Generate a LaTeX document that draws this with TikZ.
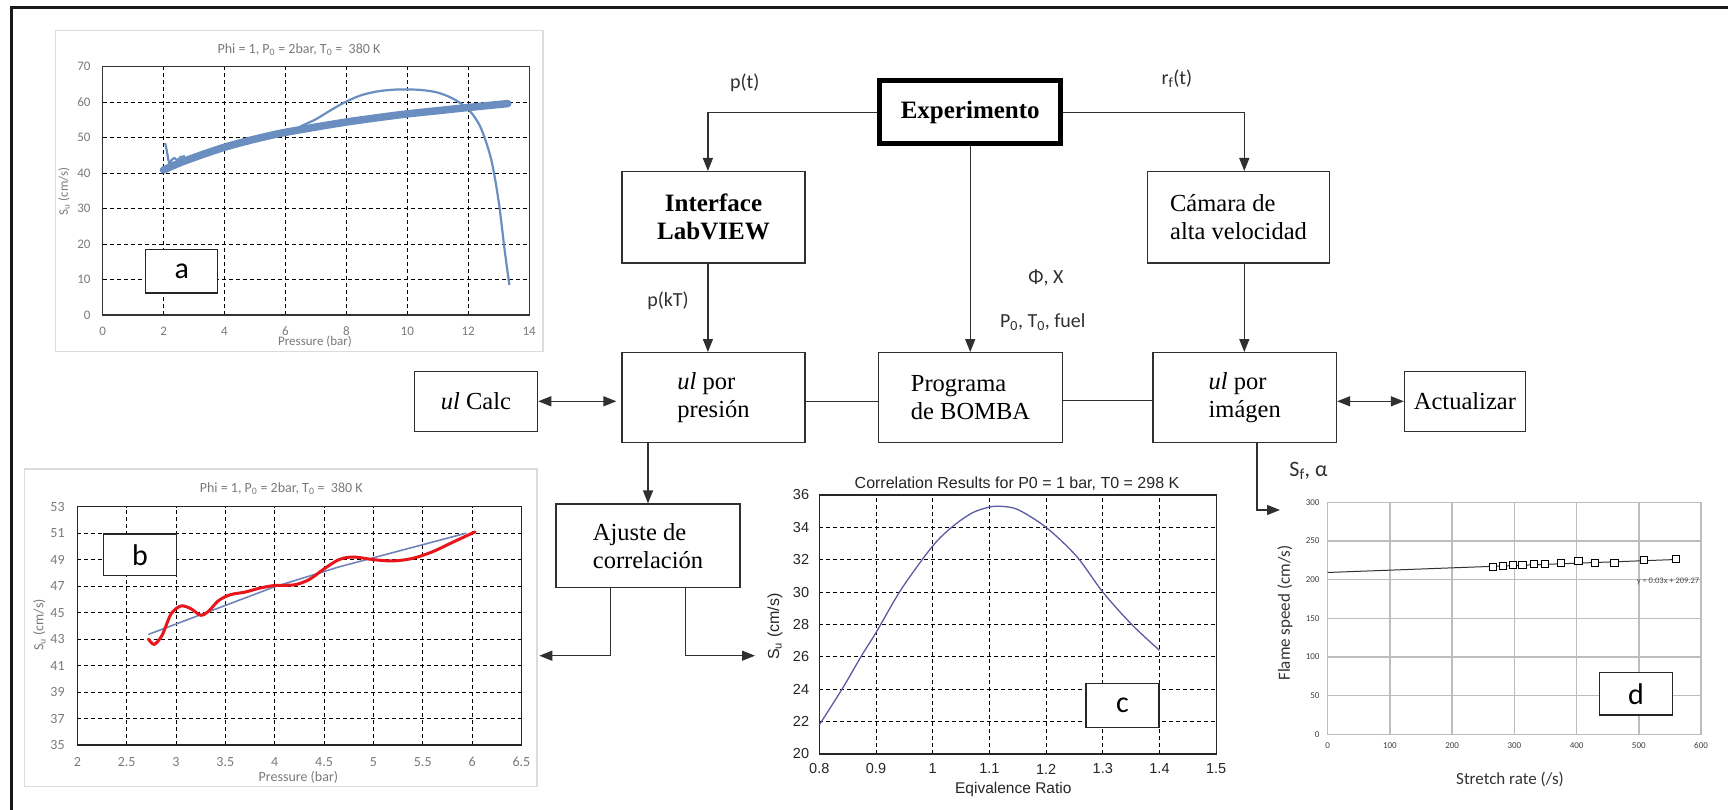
\documentclass[tikz,border=0pt]{standalone}
\usepackage{fontspec}
\setmainfont{Liberation Serif}
\newfontfamily\calfont{Carlito}
\newfontfamily\arifont{Liberation Sans}
\usetikzlibrary{arrows.meta,calc}
\definecolor{ln}{HTML}{303030}
\definecolor{gtxt}{HTML}{7A7A7A}
\definecolor{pbord}{HTML}{DCDCDC}
\definecolor{ablue}{HTML}{6A8EC0}
\definecolor{bblue}{HTML}{7283BA}
\definecolor{bred}{HTML}{E8161C}
\definecolor{cblue}{HTML}{5B5BA3}
\definecolor{dgrid}{HTML}{BDBDBD}
\tikzset{
 flowbox/.style={draw=ln, line width=1.3pt, inner sep=0pt, fill=white, font=\fontsize{24.5}{28}\selectfont, align=left},
 con/.style={draw=ln, line width=1.3pt},
 arr/.style={con, -{Triangle[length=13pt,width=10pt]}},
 darr/.style={con, {Triangle[length=13pt,width=10pt]}-{Triangle[length=13pt,width=10pt]}},
 flab/.style={font=\calfont\fontsize{20}{24}\selectfont, text=ln, inner sep=0pt},
 dgridline/.style={dash pattern=on 4pt off 3pt, line width=0.9pt, black},
 ticka/.style={font=\calfont\fontsize{13}{13}\selectfont, text=gtxt, inner sep=0pt},
 tickc/.style={font=\arifont\fontsize{14.5}{15}\selectfont, text=black!85, inner sep=0pt},
 tickd/.style={font=\calfont\fontsize{9}{9}\selectfont, text=black!75, inner sep=0pt},
 lbox/.style={draw=black!85, fill=white, line width=1.2pt, inner sep=0pt, font=\calfont\fontsize{30}{30}\selectfont},
 panel/.style={draw=pbord, line width=1.5pt},
}
\begin{document}
\begin{tikzpicture}[x=1pt,y=-1pt]
\useasboundingbox (0,0) rectangle (1728,810);
\fill[white] (0,0) rectangle (1728,810);
% outer frame
\draw[line width=2.6pt, black!90] (11.7,815) -- (11.7,7.3) -- (1735,7.3);

% ================= plot a =================
\draw[panel] (55.5,30.5) rectangle (543,351.7);
\begin{scope}[shift={(102.7,315)}, x=30.46pt, y=3.547pt]
 \foreach \xx in {2,4,...,12} \draw[dgridline] (\xx,0) -- (\xx,70);
 \foreach \yy in {10,20,...,60} \draw[dgridline] (0,\yy) -- (14,\yy);
 \draw[line width=1.2pt, black!80] (0,0) rectangle (14,70);
 \foreach \xx [count=\i] in {0,2,...,14} \node[ticka, yshift=-16pt] (ax\i) at (\xx,0) {\xx};
 \foreach \yy [count=\i] in {0,10,...,70} \node[ticka, anchor=east, xshift=-12pt] (ay\i) at (0,\yy) {\yy};
 \draw[ablue, line width=7.5pt, line cap=round, line join=round] plot[smooth] coordinates {(2.0,40.9) (2.5,42.8) (3,44.4) (3.5,45.9) (4,47.3) (4.5,48.5) (5,49.6) (5.5,50.6) (6,51.5) (7,53.0) (8,54.4) (9,55.6) (10,56.7) (11,57.6) (12,58.5) (13.3,59.6)};
 \draw[ablue, line width=2.2pt, line join=round] (2.05,48.5) -- (2.1,46.5) -- (2.15,44) -- (2.2,42) -- (2.25,43.6) -- (2.35,44.3) -- (2.45,43.6) -- (2.55,44.5) -- (2.7,44.8);
 \draw[ablue, line width=2.2pt] plot[smooth] coordinates {(6.5,53.2) (7,55.2) (7.5,57.8) (8,60.2) (8.5,62) (9,63) (9.5,63.5) (10,63.6) (10.5,63.4) (11,62.7) (11.5,61) (12,58) (12.4,53) (12.75,44) (13.0,32) (13.2,18) (13.35,8.5)};
\end{scope}
\node[ticka, font=\calfont\fontsize{14}{14}\selectfont] (ta) at (299,50) {Phi = 1, P\textsubscript{0} = 2bar, T\textsubscript{0} =~ 380 K};
\node[ticka] (xa) at (315,342) {Pressure (bar)};
\node[ticka, rotate=90] (ya) at (64,191.7) {S\textsubscript{u} (cm/s)};
\node[lbox, minimum width=72pt, minimum height=43.7pt] (la) at (181.7,271.2) {a};

% ================= plot b =================
\draw[panel] (24.5,469) rectangle (537,786.5);
\begin{scope}[shift={(-120.1,1208.4)}, x=98.7pt, y=13.24pt]
 \foreach \xx in {2.5,3,3.5,4,4.5,5,5.5,6} \draw[dgridline] (\xx,35) -- (\xx,53);
 \foreach \yy in {37,39,...,51} \draw[dgridline] (2,\yy) -- (6.5,\yy);
 \draw[line width=1.2pt, black!85] (2,35) rectangle (6.5,53);
 \foreach \xx [count=\i] in {2,2.5,3,3.5,4,4.5,5,5.5,6,6.5} \node[ticka, font=\calfont\fontsize{14}{14}\selectfont, yshift=-16.7pt] (bx\i) at (\xx,35) {\xx};
 \foreach \yy [count=\i] in {35,37,...,53} \node[ticka, font=\calfont\fontsize{14}{14}\selectfont, anchor=east, xshift=-12.5pt] (by\i) at (2,\yy) {\yy};
 \draw[bblue, line width=1.6pt] (2.72,43.35) -- (4.0,46.95) -- (4.65,48.45) -- (5.94,51.0);
 \draw[bred, line width=3pt, line cap=round] plot[smooth] coordinates {(2.72,43.0) (2.78,42.6) (2.86,43.3) (2.95,44.9) (3.05,45.5) (3.15,45.3) (3.25,44.8) (3.33,45.1) (3.43,45.9) (3.55,46.35) (3.7,46.55) (3.85,46.85) (4.0,47.05) (4.2,47.1) (4.35,47.5) (4.5,48.3) (4.65,49.0) (4.8,49.2) (5.0,49.0) (5.2,48.9) (5.4,49.1) (5.6,49.6) (5.8,50.3) (6.03,51.1)};
\end{scope}
\node[ticka, font=\calfont\fontsize{14}{14}\selectfont] (tb) at (281.3,488.3) {Phi = 1, P\textsubscript{0} = 2bar, T\textsubscript{0} =~ 380 K};
\node[ticka, font=\calfont\fontsize{14}{14}\selectfont] (xb) at (298.4,777.3) {Pressure (bar)};
\node[ticka, font=\calfont\fontsize{14}{14}\selectfont, rotate=90] (yb) at (39.4,625) {S\textsubscript{u} (cm/s)};
\node[lbox, minimum width=72.3pt, minimum height=41.3pt] (lb) at (140,554.7) {b};

% ================= plot c =================
\begin{scope}[shift={(365.7,1077.8)}, x=567pt, y=16.19pt]
 \foreach \xx in {0.9,1.0,1.1,1.2,1.3,1.4} \draw[dgridline] (\xx,20) -- (\xx,36);
 \foreach \yy in {22,24,...,34} \draw[dgridline] (0.8,\yy) -- (1.5,\yy);
 \draw[line width=1.2pt, black!85] (0.8,20) rectangle (1.5,36);
 \foreach \xx/\tl [count=\i] in {0.8/0.8,0.9/0.9,1.0/1,1.1/1.1,1.2/1.2,1.3/1.3,1.4/1.4,1.5/1.5} \node[tickc, yshift=-15pt] (cx\i) at (\xx,20) {\tl};
 \foreach \yy [count=\i] in {20,22,...,36} \node[tickc, anchor=east, xshift=-10pt] (cy\i) at (0.8,\yy) {\yy};
 \draw[cblue, line width=1.3pt] plot[smooth] coordinates {(0.8,21.8) (0.84,24.0) (0.875,26.1) (0.9,27.5) (0.945,30.2) (1.0,32.85) (1.035,34.05) (1.07,34.9) (1.1,35.25) (1.12,35.3) (1.15,35.1) (1.2,34.0) (1.254,32.2) (1.3,30.0) (1.351,28.0) (1.4,26.4)};
\end{scope}
\node[font=\arifont\fontsize{16}{16}\selectfont, text=black!85, inner sep=0pt] (tc) at (1017,484) {Correlation Results for P0 = 1 bar, T0 = 298 K};
\node[font=\arifont\fontsize{15.5}{16}\selectfont, text=black!85, inner sep=0pt] (xc) at (1013.3,789) {Eqivalence Ratio};
\node[font=\arifont\fontsize{16}{16}\selectfont, text=black!85, inner sep=0pt, rotate=90] (yc) at (775,626.7) {S\textsubscript{u} (cm/s)};
\node[lbox, minimum width=73pt, minimum height=43.6pt] (lc) at (1122.5,705.5) {c};

% ================= plot d =================
\begin{scope}[shift={(1327.7,734.3)}, x=0.6222pt, y=0.7733pt]
 \foreach \xx in {100,200,...,500} \draw[dgrid, line width=1.5pt] (\xx,0) -- (\xx,300);
 \foreach \yy in {50,100,...,250} \draw[dgrid, line width=1.5pt] (0,\yy) -- (600,\yy);
 \draw[dgrid, line width=1.5pt] (0,0) rectangle (600,300);
 \foreach \xx [count=\i] in {0,100,...,600} \node[tickd, yshift=-11.5pt] (dx\i) at (\xx,0) {\xx};
 \foreach \yy [count=\i] in {0,50,...,300} \node[tickd, anchor=east, xshift=-8pt] (dy\i) at (0,\yy) {\yy};
 \draw[black!80, line width=1pt] (0,209.27) -- (565,226.2);
 \foreach \px/\py in {266/216,282/218,298/219,313/219,331/220.4,349/220.4,375/222,403/224,430/222,461/222,508/225,560/227}
   \draw[black, line width=1pt, fill=white] (\px,\py) ++(-3.6pt,-3.6pt) rectangle ++(7.2pt,7.2pt);
\end{scope}
\node[font=\calfont\fontsize{17}{17}\selectfont, text=black!80, inner sep=0pt, rotate=90] (yd) at (1285,613.3) {Flame speed (cm/s)};
\node[font=\calfont\fontsize{17}{17}\selectfont, text=black!80, inner sep=0pt] (xd) at (1510,779) {Stretch rate (/s)};
\node[font=\calfont\fontsize{8.5}{9}\selectfont, text=black!70, inner sep=0pt] (ed) at (1668,581) {y = 0.03x + 209.27};
\node[lbox, minimum width=73.4pt, minimum height=42.3pt] (ld) at (1636,693.9) {d};

% ================= flowchart =================
\node[flowbox, draw=black, line width=5pt, minimum width=181.5pt, minimum height=62.7pt, font=\bfseries\fontsize{25}{28}\selectfont] (exp) at (970.2,112.2) {Experimento};
\node[flowbox, font=\bfseries\fontsize{25}{28}\selectfont, align=center, minimum width=183pt, minimum height=91.3pt] (labview) at (713.5,217.3) {Interface\\LabVIEW};
\node[flowbox, minimum width=183pt, minimum height=90pt] (porpresion) at (713.5,397.7) {\textit{ul} por\\presión};
\node[flowbox, minimum width=123.2pt, minimum height=60pt] (calc) at (476,401.3) {\textit{ul} Calc};
\node[flowbox, minimum width=183.5pt, minimum height=90pt] (programa) at (970.5,397.7) {Programa\\de BOMBA};
\node[flowbox, minimum width=182.3pt, minimum height=91.3pt] (camara) at (1238.5,217.3) {Cámara de\\alta velocidad};
\node[flowbox, minimum width=183.6pt, minimum height=90pt] (porimagen) at (1244.7,397.7) {\textit{ul} por\\imágen};
\node[flowbox, minimum width=120.7pt, minimum height=60pt] (actualizar) at (1464.9,401.3) {Actualizar};
\node[flowbox, minimum width=184pt, minimum height=83.3pt] (ajuste) at (648,545.7) {Ajuste de\\correlación};

\coordinate (lvn) at ([xshift=-5.6pt]labview.north);
\coordinate (lvs) at ([xshift=-5.6pt]labview.south);
\coordinate (cmn) at ([xshift=5.8pt]camara.north);
\coordinate (cms) at ([xshift=5.8pt]camara.south);
\coordinate (bout) at (539.3,655.7);
\coordinate (cout) at (755,655.7);
\coordinate (dout) at (1280,510);

\draw[arr] (exp.west) -| (lvn);
\draw[arr] (lvs) -- (lvs |- porpresion.north);
\draw[arr] (exp.east) -| (cmn);
\draw[arr] (cms) -- (cms |- porimagen.north);
\draw[arr] (exp.south) -- (exp.south |- programa.north);
\draw[darr, shorten >=5pt] (calc.east) -- (calc.east -| porpresion.west);
\draw[con] ([yshift=-3.6pt]porpresion.east) -- ([yshift=-3.6pt]programa.west);
\draw[con] ([yshift=-3pt]programa.east) -- ([yshift=-3pt]porimagen.west);
\draw[darr] ([yshift=-3.6pt]porimagen.east) -- ([yshift=-3.6pt]porimagen.east -| actualizar.west);
\draw[arr] (ajuste.north |- porpresion.south) -- (ajuste.north);
\draw[arr] ([xshift=-37.3pt]ajuste.south) |- (bout);
\draw[arr] ([xshift=37.7pt]ajuste.south) |- (cout);
\draw[arr] ([xshift=12.3pt]porimagen.south) |- (dout);

\node[flab] (lpt) at (744.8,82.7) {p(t)};
\node[flab] (lpkt) at (668,300.7) {p(kT)};
\node[flab] (lphi) at (1046,278.3) {Φ, X};
\node[flab] (lp0) at (1042.8,321.7) {P\textsubscript{0}, T\textsubscript{0}, fuel};
\node[flab] (lrf) at (1176.8,78.3) {r\textsubscript{f}(t)};
\node[flab, font=\calfont\fontsize{22}{26}\selectfont] (lsf) at (1308.5,470.7) {S\textsubscript{f}, α};
\end{tikzpicture}
\end{document}
